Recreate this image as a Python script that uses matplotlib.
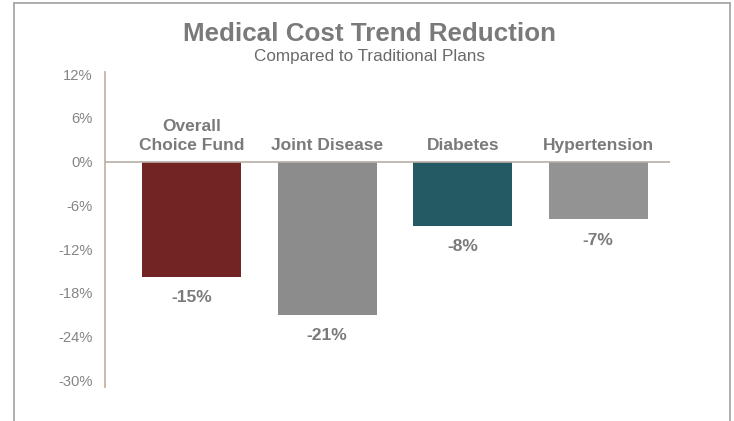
import numpy as np
import matplotlib
matplotlib.use('Agg')
import matplotlib.pyplot as plt
from matplotlib.lines import Line2D

plt.rcParams['font.family'] = ['Liberation Sans', 'DejaVu Sans']

# chart data
categories = ['Overall\nChoice Fund', 'Joint Disease', 'Diabetes', 'Hypertension']
values = [-15.8, -21.0, -8.8, -7.9]
value_labels = ['-15%', '-21%', '-8%', '-7%']
bar_colors = ['#722323', '#8c8c8c', '#235a64', '#939393']
yticks = [12, 6, 0, -6, -12, -18, -24, -30]

text_gray = '#7a7a7a'

fig = plt.figure(figsize=(7.34, 4.21), dpi=100)
W, H = 734, 421

# outer frame of the slide
frame_kw = dict(color='#a8a8a8', lw=1.3, transform=fig.transFigure)
fig.add_artist(Line2D([14 / W, 14 / W], [0, 1 - 3 / H], **frame_kw))
fig.add_artist(Line2D([14 / W, 730 / W], [1 - 3 / H, 1 - 3 / H], **frame_kw))
fig.add_artist(Line2D([730 / W, 730 / W], [0, 1 - 3 / H], **frame_kw))

ax = fig.add_axes([105 / W, 1 - 387 / H, (670 - 105) / W, (387 - 72) / H])
x = np.arange(len(categories))
ax.bar(x, values, width=0.73, color=bar_colors, zorder=2)

ax.set_xlim(-0.64, 3.53)
ax.set_ylim(-30.9, 12.3)
ax.set_yticks(yticks)
ax.set_yticklabels(['%d%%' % t for t in yticks])
ax.tick_params(axis='y', length=0, pad=9, labelsize=10.6, labelcolor='#858585')
ax.set_xticks([])

for s in ['top', 'right', 'bottom']:
    ax.spines[s].set_visible(False)
ax.spines['left'].set_color('#c4aa98')
ax.spines['left'].set_linewidth(1.2)
ax.axhline(0, color='#b8aea6', lw=1.2, zorder=3)

for xi, cat, v, lab in zip(x, categories, values, value_labels):
    ax.annotate(cat, (xi, 0), xytext=(0, 6), textcoords='offset points',
                ha='center', va='bottom', fontsize=12.5, fontweight='bold',
                color=text_gray, linespacing=1.35)
    ax.annotate(lab, (xi, v), xytext=(0, -15), textcoords='offset points',
                ha='center', va='center', fontsize=12.5, fontweight='bold',
                color=text_gray)

fig.text(369 / W, 1 - 34 / H, 'Medical Cost Trend Reduction', ha='center', va='center',
         fontsize=18.7, fontweight='bold', color=text_gray)
fig.text(369 / W, 1 - 57 / H, 'Compared to Traditional Plans', ha='center', va='center',
         fontsize=12.3, color='#6a6a6a')

fig.savefig('out.png', dpi=100)
